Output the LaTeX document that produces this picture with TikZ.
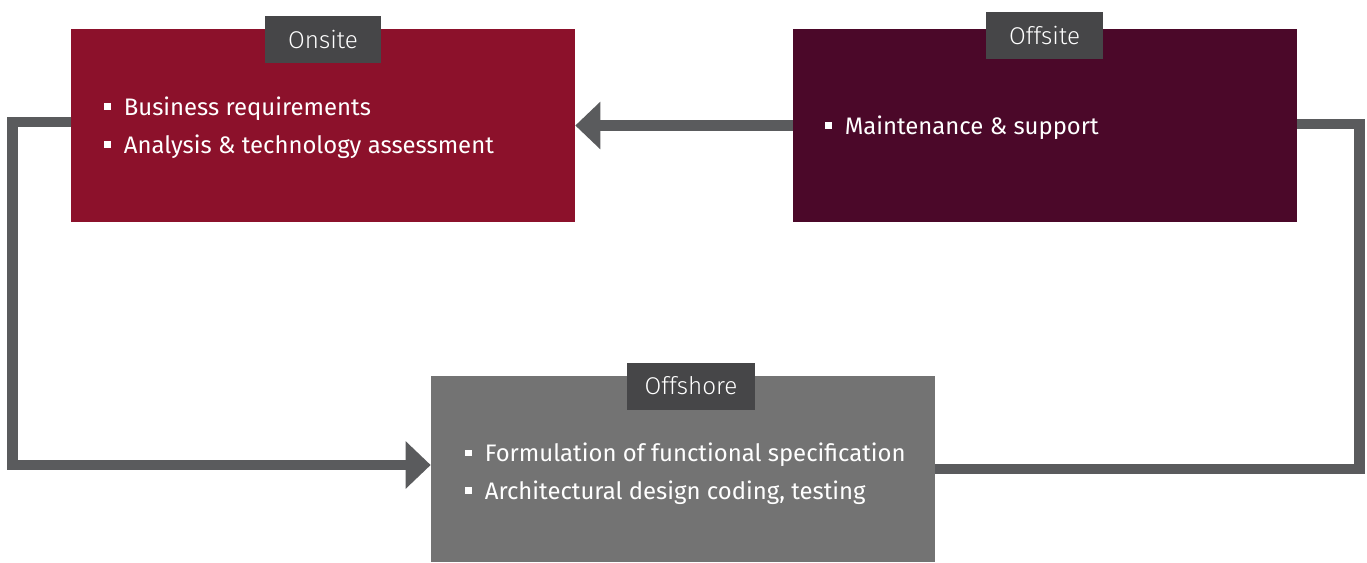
\documentclass[tikz,border=0pt]{standalone}
\usepackage{fontspec}
\setmainfont{Fira Sans}
\newfontfamily\taglight{Fira Sans Light}
\usetikzlibrary{arrows.meta, positioning}

\definecolor{onsitered}{HTML}{8C112B}
\definecolor{offsitewine}{HTML}{4B0829}
\definecolor{offshoregray}{HTML}{737373}
\definecolor{taggray}{HTML}{464648}
\definecolor{flowgray}{HTML}{5A5B5D}

% small square bullet in front of each line
\newcommand\sqitem{\makebox[0.39cm][l]{\rule[0.12cm]{0.13cm}{0.13cm}}}

\tikzset{
  box/.style={rectangle, inner sep=0, minimum width=10.08cm, minimum height=3.86cm},
  tag/.style={fill=taggray, text=white, inner sep=0, minimum height=0.94cm,
    font=\taglight\fontsize{13.8}{16}\selectfont},
  list/.style={text=white, align=left, inner sep=0, anchor=north west,
    font=\fontsize{13.6}{21.5}\selectfont},
  flow/.style={draw=flowgray, line width=0.21cm},
  flowtip/.style={-{Triangle[length=0.5cm, width=0.92cm]}}
}

\begin{document}
\begin{tikzpicture}[x=0.02cm, y=-0.02cm]
\useasboundingbox (0,0) rectangle (1367,562);

% boxes
\node[box, fill=onsitered] (onsite) at (323,125.5) {};
\node[box, fill=offsitewine] (offsite) at (1045,125.5) {};
\node[box, fill=offshoregray, minimum height=3.72cm] (offshore) at (683,469) {};

% tags
\node[tag, minimum width=2.32cm] (onsitetag) at (323,39.5) {Onsite};
\node[tag, minimum width=2.34cm] (offsitetag) at (1044.5,35.5) {Offsite};
\node[tag, minimum width=2.56cm] (offshoretag) at (691,386) {Offshore};

% lists
\node[list] (onsitelist) at (104,97) {\sqitem Business requirements\\
  \sqitem Analysis \& technology assessment};
\node[list] (offsitelist) at (825,116) {\sqitem Maintenance \& support};
\node[list] (offshorelist) at (465,443) {\sqitem Formulation of functional specification\\
  \sqitem Architectural design coding, testing};

% arrows
\draw[flow, flowtip] (offsite.west) -- (onsite.east);
\draw[flow, flowtip] ([yshift=0.07cm]onsite.west) -- ++(-58,0) |- ([yshift=0.08cm]offshore.west);
\draw[flow] ([yshift=0.03cm]offsite.east) -- ++(62,0) |- (offshore.east);

\end{tikzpicture}
\end{document}
